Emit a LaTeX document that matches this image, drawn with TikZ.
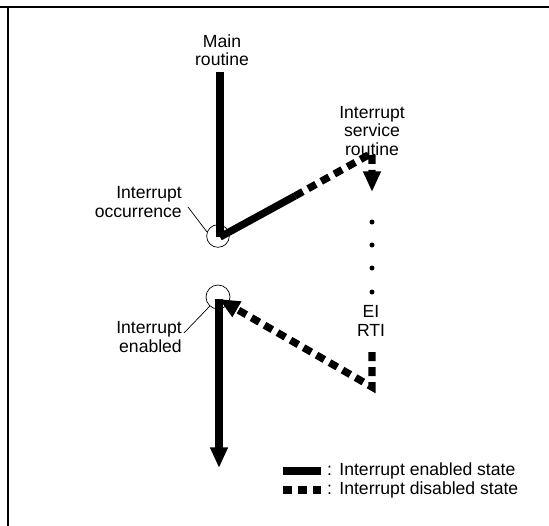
\documentclass[tikz,border=0pt]{standalone}
\usepackage{fontspec}
\setmainfont{Liberation Sans}
\usepackage{tikz}
\usetikzlibrary{arrows.meta, positioning}
\newcommand{\lblfont}{\fontsize{15}{15.5}\selectfont}
\tikzset{
	enabledline/.style={line width=0.22cm},
	disabledline/.style={line width=0.22cm, dash pattern=on 0.27cm off 0.18cm},
	flowarr/.style={-{Triangle[length=0.62cm, width=0.5cm]}},
	leader/.style={line width=0.6pt},
	evcircle/.style={circle, draw, line width=0.6pt, minimum size=0.68cm, inner sep=0pt},
	lbl/.style={font=\lblfont, inner sep=0pt, align=center},
}

\begin{document}
\begin{tikzpicture}[x=0.03cm, y=-0.03cm]
	\useasboundingbox (0,0) rectangle (549,526);
	% frame
	\draw[line width=0.06cm] (0,7) -- (549,7);
	\draw[line width=0.06cm] (8,7) -- (8,526);
	% points of the flow
	\coordinate (mainstart) at (220,72);
	\coordinate (occ) at (220,237);
	\coordinate (mid) at (295,196);
	\coordinate (isrtop) at (372,153);
	\coordinate (isrend) at (372,192);
	\coordinate (retstart) at (372,352);
	\coordinate (retcorner) at (372,387);
	\coordinate (ena) at (219,299);
	\coordinate (mainend) at (219,468);
	% labels
	\node[lbl] (mainlbl) at (222,50) {Main\\routine};
	\node[lbl] (isrlbl) at (372,131) {Interrupt\\service\\routine};
	\node[lbl] (eirti) at (371,321) {EI\\RTI};
	\node[lbl, align=right, anchor=east] (occlbl) at (182,202) {Interrupt\\occurrence};
	\node[lbl, align=right, anchor=east] (enlbl) at (182,337) {Interrupt\\enabled};
	\node[evcircle] (occcirc) at (218,236) {};
	\node[evcircle, minimum size=0.72cm] (encirc) at (218,297) {};
	% flow
	\draw[enabledline] (mainstart) -- (occ);
	\draw[enabledline] (occ) -- (mid);
	\draw[disabledline, flowarr] (mid) -- (isrtop) -- (isrend);
	\foreach \y in {222,245,268,292}
		\fill (372,\y) circle (0.075cm);
	\draw[disabledline, flowarr] (retstart) -- (retcorner) -- (ena);
	\draw[enabledline, flowarr] (ena) -- (mainend);
	% leaders
	\draw[leader] (occlbl.east) ++(6,5) -- (occcirc.160);
	\draw[leader] (enlbl.east) ++(2,-4) -- (encirc.228);
	% legend
	\node[lbl, anchor=west] (legen) at (327,471) {:\hspace{0.22cm}Interrupt enabled state};
	\node[lbl, anchor=west] (legdis) at (327,490) {:\hspace{0.22cm}Interrupt disabled state};
	\draw[enabledline] (283,471) -- (321,471);
	\draw[disabledline] (283,490) -- (321,490);
\end{tikzpicture}
\end{document}
